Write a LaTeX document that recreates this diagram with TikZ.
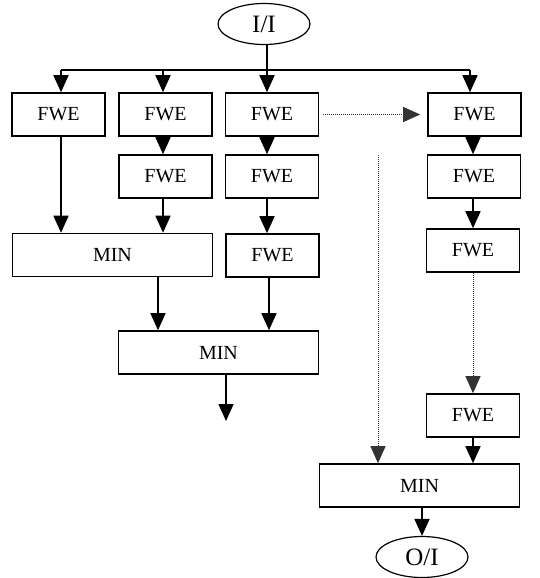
\documentclass[tikz,border=0pt]{standalone}
\usepackage{fontspec}
\setmainfont{Liberation Serif}
\usetikzlibrary{arrows.meta,shapes.geometric,calc}
\begin{document}
\begin{tikzpicture}[x=1pt,y=-1pt,
 box/.style={draw,line width=1.6pt,minimum height=43pt,inner sep=0pt,font=\fontsize{20}{20}\selectfont},
 fwe/.style={box,minimum width=93pt},
 minbox/.style={box,minimum width=200pt},
 term/.style={draw,ellipse,line width=1.2pt,minimum width=92pt,minimum height=41pt,inner sep=0pt,font=\fontsize{25}{25}\selectfont},
 tip/.style={-{Triangle[length=17pt,width=15pt]}},
 arr/.style={line width=1.6pt,tip},
 plain/.style={line width=1.6pt},
 dots/.style={line width=0.9pt,dash pattern=on 1pt off 1pt,black!80,tip}]
\useasboundingbox (0,0) rectangle (539,578);

\node[term] (in) at (264,24) {I/I};
\node[fwe] (b1) at (58.5,114.5) {FWE};
\node[fwe] (b2) at (165.5,114.5) {FWE};
\node[fwe] (b3) at (272,114.5) {FWE};
\node[fwe] (b4) at (474.5,114.5) {FWE};
\node[fwe] (b2b) at (165.5,176.5) {FWE};
\node[fwe] (b3b) at (272,176.5) {FWE};
\node[fwe] (b4b) at (474,176.5) {FWE};
\node[minbox] (m1) at (112.5,255) {MIN};
\node[fwe] (b3c) at (272.5,255.5) {FWE};
\node[fwe] (b4c) at (473,250.5) {FWE};
\node[minbox] (m2) at (218.5,352.5) {MIN};
\node[fwe] (b4d) at (473,415.5) {FWE};
\node[minbox] (m3) at (419.5,485.5) {MIN};
\node[term] (out) at (422,557) {O/I};

\coordinate (bus) at (267,70);
\coordinate (busL) at (61,70);
\coordinate (busR) at (470,70);
\coordinate (m2out) at (226,421);
\coordinate (dv) at (378,155);

% input bus
\draw[plain] (in.south -| bus) -- (bus);
\draw[plain] (busL) -- (busR);
\draw[arr] (busL) -- (busL |- b1.north);
\draw[arr] (bus -| 163,0) -- (163,0 |- b2.north);
\draw[arr] (bus) -- (bus |- b3.north);
\draw[arr] (busR) -- (busR |- b4.north);

% column 2
\draw[arr] (b2.south -| 163,0) -- (163,0 |- b2b.north);
\draw[arr] (b2b.south -| 163,0) -- (163,0 |- m1.north);
\draw[arr] (b1.south -| busL) -- (busL |- m1.north);

% column 3
\draw[arr] (b3.south -| bus) -- (bus |- b3b.north);
\draw[arr] (b3b.south -| bus) -- (bus |- b3c.north);
\draw[arr] (b3c.south -| 269,0) -- (269,0 |- m2.north);
\draw[arr] (m1.south -| 158,0) -- (158,0 |- m2.north);
\draw[arr] (m2.south -| m2out) -- (m2out);

% column 4
\draw[arr] (b4.south -| b4c) -- (b4c |- b4b.north);
\draw[arr] (b4b.south -| b4c) -- (b4c.north);
\draw[dots] (b4c.south) -- (b4d.north);
\draw[arr] (b4d.south) -- (b4d.south |- m3.north);
\draw[arr] (m3.south -| out) -- (out.north);

% dotted links
\draw[dots,shorten <=4pt,shorten >=7pt] (b3.east) -- (b4.west);
\draw[dots] (dv) -- (dv |- m3.north);
\end{tikzpicture}
\end{document}
